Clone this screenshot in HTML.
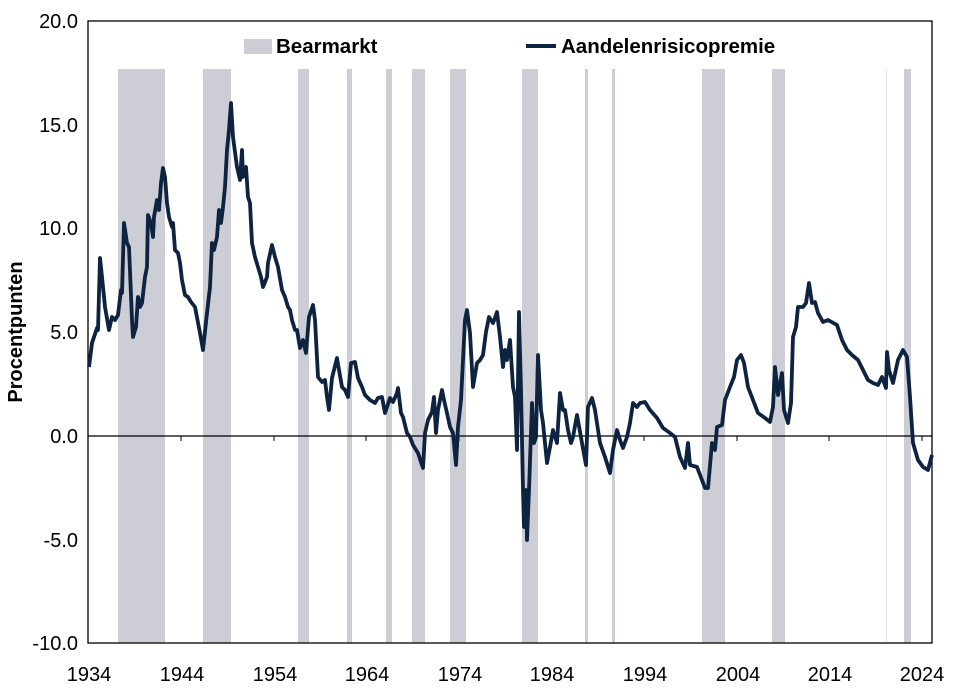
<!DOCTYPE html>
<html><head><meta charset="utf-8"><style>
body{margin:0;background:#fff;}
text{font-family:"Liberation Sans",Arial,sans-serif;}
</style></head><body>
<svg width="956" height="693" xmlns="http://www.w3.org/2000/svg">
<g fill="#cdcdd6">
<rect x="118" y="69" width="47" height="574"/>
<rect x="203" y="69" width="28" height="574"/>
<rect x="298" y="69" width="11" height="574"/>
<rect x="347" y="69" width="5" height="574"/>
<rect x="386" y="69" width="6" height="574"/>
<rect x="412" y="69" width="13" height="574"/>
<rect x="450" y="69" width="16" height="574"/>
<rect x="522" y="69" width="16" height="574"/>
<rect x="585" y="69" width="3" height="574"/>
<rect x="612" y="69" width="3" height="574"/>
<rect x="702" y="69" width="23" height="574"/>
<rect x="772" y="69" width="13" height="574"/>
<rect x="886" y="69" width="1" height="574" fill="#e2e2ea"/>
<rect x="904" y="69" width="7" height="574"/>
</g>
<rect x="88" y="21" width="844" height="622" fill="none" stroke="#000" stroke-width="1.3"/>
<line x1="88" y1="436" x2="932" y2="436" stroke="#000" stroke-width="1.3"/>
<g stroke="#000" stroke-width="1">
<line x1="181" y1="436" x2="181" y2="441"/><line x1="274" y1="436" x2="274" y2="441"/><line x1="366" y1="436" x2="366" y2="441"/><line x1="459" y1="436" x2="459" y2="441"/><line x1="551" y1="436" x2="551" y2="441"/><line x1="644" y1="436" x2="644" y2="441"/><line x1="737" y1="436" x2="737" y2="441"/><line x1="829" y1="436" x2="829" y2="441"/><line x1="922" y1="436" x2="922" y2="441"/>
</g>
<g font-size="20" fill="#000" text-anchor="end">
<text x="78" y="28">20.0</text><text x="78" y="132">15.0</text><text x="78" y="235">10.0</text><text x="78" y="339">5.0</text><text x="78" y="443">0.0</text><text x="78" y="547">-5.0</text><text x="78" y="650">-10.0</text>
</g>
<g font-size="20" fill="#000" text-anchor="middle">
<text x="89" y="681">1934</text><text x="182" y="681">1944</text><text x="275" y="681">1954</text><text x="367" y="681">1964</text><text x="460" y="681">1974</text><text x="552" y="681">1984</text><text x="645" y="681">1994</text><text x="738" y="681">2004</text><text x="830" y="681">2014</text><text x="922" y="681">2024</text>
</g>
<text transform="translate(22,332) rotate(-90)" font-size="20" font-weight="bold" text-anchor="middle">Procentpunten</text>
<rect x="244" y="39" width="28" height="15" fill="#cdcdd6"/>
<text x="276" y="53" font-size="20.5" font-weight="bold">Bearmarkt</text>
<line x1="526" y1="46" x2="556" y2="46" stroke="#0d2340" stroke-width="4"/>
<text x="561" y="53" font-size="20.5" font-weight="bold">Aandelenrisicopremie</text>
<polyline fill="none" stroke="#0d2340" stroke-width="3.8" stroke-linejoin="round" points="
89,367 92,343 97,328 98,330 100,258 102,277 105,307 109,330 112,317 115,320 118,315 121,290 122,293 124,223 127,243 129,247 132,320 133,337 136,327 138,297 140,307 142,303 145,277 147,267 148,215 151,223 153,237 154,217 157,200 159,210 161,183 163,168 165,177 167,203 169,217 172,227 173,223 175,250 178,253 180,263 182,280 185,295 188,297 191,302 195,307 200,333 203,350 207,313 210,287 212,243 214,250 217,237 219,210 221,223 223,207 225,187 227,150 229,130 231,103 233,137 237,167 240,180 242,150 243,177 246,167 248,197 250,203 252,243 255,257 258,267 261,277 263,287 267,277 268,263 272,245 275,257 278,267 282,290 285,297 288,307 290,310 292,320 295,330 297,330 300,348 303,340 306,353 309,317 313,305 315,320 318,377 322,382 325,380 327,397 329,410 332,378 334,370 337,358 339,370 342,387 345,390 348,397 351,363 355,362 358,378 362,387 365,395 370,400 375,403 378,398 382,397 385,413 390,398 393,402 397,393 398,388 401,413 403,417 407,433 410,437 413,445 418,453 423,468 425,433 428,420 432,412 434,397 436,433 438,410 442,390 444,400 447,413 450,427 453,433 456,465 458,427 461,400 463,360 465,320 467,310 470,333 473,387 477,363 480,360 483,355 486,332 489,317 493,323 495,318 497,312 500,337 503,367 505,350 507,360 510,340 513,387 515,397 517,450 519,312 521,390 523,490 524,527 526,490 527,540 529,490 532,403 534,443 536,437 538,355 541,410 543,423 547,463 550,447 553,430 557,443 560,393 563,410 565,410 568,430 571,443 573,437 577,415 582,443 586,465 588,407 592,398 595,410 600,443 605,457 610,473 613,450 617,430 620,440 623,448 627,437 630,423 633,403 637,407 640,403 645,402 650,410 657,418 663,428 670,433 675,437 680,457 685,468 688,443 690,465 697,467 702,480 705,488 708,488 712,443 715,450 717,427 722,425 725,400 730,387 734,377 737,360 741,355 744,363 748,387 753,400 758,413 765,418 770,422 773,407 775,367 778,395 782,373 784,410 788,423 791,403 793,337 796,327 798,307 803,307 806,303 809,283 812,303 815,302 818,313 823,322 828,320 837,325 842,340 847,350 852,355 858,360 863,370 868,380 873,383 878,385 882,377 886,388 887,352 889,370 893,383 898,360 903,350 907,357 910,397 913,443 918,460 923,467 928,470 932,455"/>
</svg>
</body></html>
